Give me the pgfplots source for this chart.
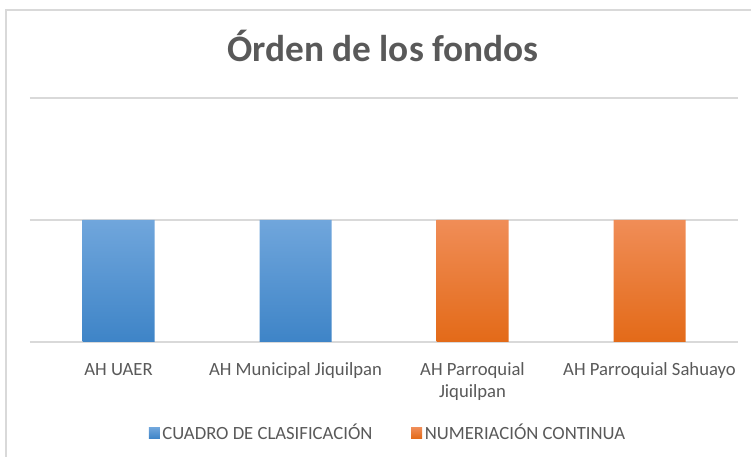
\documentclass[border=0pt]{standalone}
\usepackage{pgfplots}
\pgfplotsset{compat=1.18}
\usepackage{fontspec}
\setmainfont{Carlito}
\definecolor{txtgray}{HTML}{595959}
\definecolor{gridgray}{HTML}{D9D9D9}
\definecolor{bluetop}{HTML}{70A6DC}
\definecolor{bluebot}{HTML}{3E84C7}
\definecolor{orgtop}{HTML}{F08D57}
\definecolor{orgbot}{HTML}{E36A18}
\begin{document}
\begin{tikzpicture}
\draw[gridgray, line width=1.2pt] (4.5pt,-4pt) -- (4.5pt,335.25pt) -- (570pt,335.25pt);
\node[anchor=base, text=txtgray, font=\fontsize{28}{32}\selectfont\bfseries] at (287.25pt,296.25pt) {Órden de los fondos};
\begin{axis}[
  at={(22.5pt,86.25pt)}, anchor=south west,
  scale only axis, width=531pt, height=183pt,
  xmin=-0.5, xmax=3.5, ymin=0, ymax=2,
  ytick={0,1,2}, yticklabels={},
  ymajorgrids, grid style={gridgray, line width=1pt},
  axis line style={draw=none},
  major tick length=0pt,
  xtick={0,1,2,3},
  xticklabels={AH UAER, AH Municipal Jiquilpan, AH Parroquial\\Jiquilpan, AH Parroquial Sahuayo},
  typeset ticklabels with strut,
  xticklabel style={text=txtgray, font=\fontsize{14}{16.5}\selectfont, align=center, anchor=north, yshift=-10pt},
  ybar, bar width=54pt,
  legend columns=2,
  legend style={at={(0.506,-0.373)}, anchor=center, draw=none, fill=none,
    font=\fontsize{14}{16.5}\selectfont, text=txtgray,
    /tikz/every even column/.append style={column sep=27pt},
    inner sep=0pt},
  legend image code/.code={\fill[#1] (0pt,-4.1pt) rectangle (8.25pt,4.1pt);},
  legend cell align=left,
]
\addplot[draw=none, bar shift=0pt, top color=bluetop, bottom color=bluebot] coordinates {(0,1) (1,1)};
\addlegendentry{CUADRO DE CLASIFICACIÓN}
\addplot[draw=none, bar shift=0pt, top color=orgtop, bottom color=orgbot] coordinates {(2,1) (3,1)};
\addlegendentry{NUMERIACIÓN CONTINUA}
\end{axis}
\pgfresetboundingbox
\path[use as bounding box] (0pt,0pt) rectangle (563.25pt,342.75pt);
\end{tikzpicture}
\end{document}
